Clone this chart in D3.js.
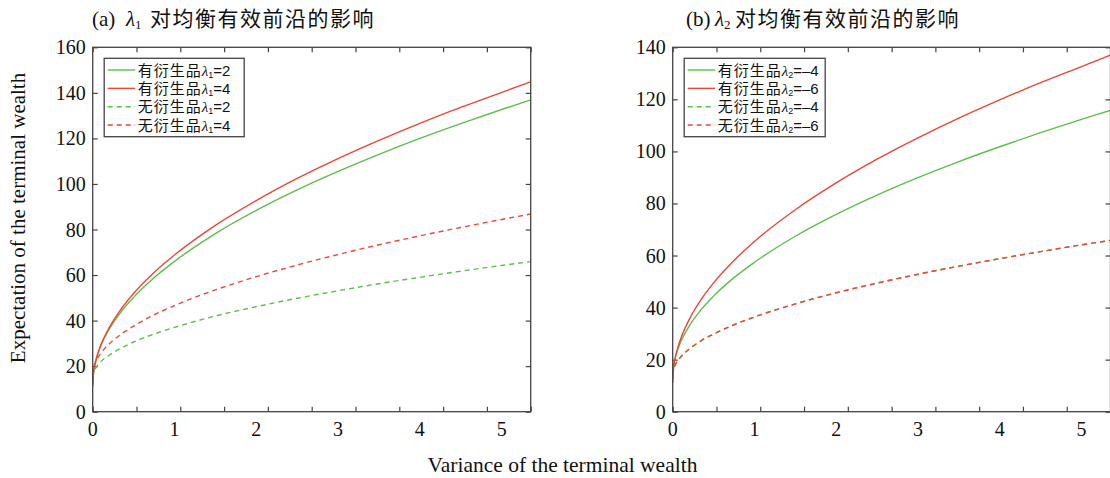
<!DOCTYPE html>
<html>
<head>
<meta charset="utf-8">
<script src="https://cdn.jsdelivr.net/npm/d3@7"></script>
<style>
	body { margin: 0; background: #fff; }
	svg { display: block; }
	.tick-label { font-family: "Liberation Serif", "DejaVu Serif", serif; font-size: 20px; fill: #111; }
</style>
</head>
<body>
<svg id="chart" width="1110" height="478"></svg>
<script>
const variance = [0, 0.01, 0.03, 0.06, 0.1, 0.2, 0.35, 0.5, 0.75, 1, 1.5, 2, 2.5, 3, 3.5, 4, 4.5, 5, 5.355];

// panel (a): lambda1
const aWithL1_2 = [12, 17.4, 21.3, 25.2, 29.1, 36.1, 44.0, 50.2, 58.8, 66.0, 78.2, 88.4, 97.4, 105.5, 113.0, 120.0, 126.5, 132.7, 136.9];
const aWithL1_4 = [11, 16.8, 21.0, 25.2, 29.3, 36.8, 45.2, 51.9, 61.1, 68.8, 81.8, 92.7, 102.4, 111.1, 119.1, 126.6, 133.6, 140.2, 144.8];
const aWithoutL1_2 = [15, 17.2, 18.8, 20.4, 22.0, 24.8, 28.0, 30.6, 34.1, 37.0, 42.0, 46.1, 49.8, 53.1, 56.2, 59.0, 61.7, 64.2, 65.9];
const aWithoutL1_4 = [16, 19.1, 21.3, 23.5, 25.7, 29.7, 34.1, 37.6, 42.5, 46.6, 53.5, 59.3, 64.4, 69.0, 73.3, 77.2, 80.9, 84.4, 86.8];

// panel (b): lambda2
const bWithL2_4 = [13, 17.4, 20.7, 23.9, 27.0, 32.8, 39.3, 44.4, 51.5, 57.4, 67.4, 75.8, 83.2, 89.9, 96.1, 101.8, 107.2, 112.3, 115.8];
const bWithL2_6 = [11, 16.4, 20.4, 24.3, 28.2, 35.3, 43.2, 49.5, 58.1, 65.4, 77.6, 87.9, 97.0, 105.2, 112.8, 119.8, 126.4, 132.6, 137.0];
const bWithoutL2_4 = [14, 16.2, 17.9, 19.5, 21.1, 24.0, 27.3, 29.8, 33.4, 36.4, 41.4, 45.7, 49.4, 52.8, 55.9, 58.8, 61.5, 64.1, 65.8];
const bWithoutL2_6 = [14, 16.2, 17.9, 19.5, 21.1, 24.0, 27.3, 29.8, 33.4, 36.4, 41.4, 45.7, 49.4, 52.8, 55.9, 58.8, 61.5, 64.1, 65.8];

const xTickLabels = [0, 1, 2, 3, 4, 5];
const aYTicks = [0, 20, 40, 60, 80, 100, 120, 140, 160];
const bYTicks = [0, 20, 40, 60, 80, 100, 120, 140];

const GREEN = "#5cbf4a";
const RED = "#ee4537";
const AXIS = "#444";
const CJK = "'Noto Sans CJK SC', sans-serif";
const SERIF = "'Liberation Serif', 'DejaVu Serif', serif";
const SANS = "'Liberation Sans', Arial, sans-serif";

const svg = d3.select("#chart");

function drawPanel(opt) {
	const x = d3.scaleLinear().domain([0, 5.355]).range([opt.left, opt.right]);
	const y = d3.scaleLinear().domain([0, opt.yMax]).range([411.7, 47.3]);
	const g = svg.append("g");

	// minor tick marks split the x range in ten
	const xMarks = d3.range(0, 11).map((i) => i * 5.355 / 10);

	g.append("g")
		.attr("transform", "translate(0,411.7)")
		.call(d3.axisBottom(x).tickValues(xMarks).tickSize(-5).tickFormat(""))
		.call((s) => s.select(".domain").remove());
	g.append("g")
		.attr("transform", "translate(0,47.3)")
		.call(d3.axisTop(x).tickValues(xMarks).tickSize(-5).tickFormat(""))
		.call((s) => s.select(".domain").remove());
	g.append("g")
		.attr("transform", "translate(" + opt.left + ",0)")
		.call(d3.axisLeft(y).tickValues(opt.yTicks).tickSize(-5).tickFormat(""))
		.call((s) => s.select(".domain").remove());
	g.append("g")
		.attr("transform", "translate(" + opt.right + ",0)")
		.call(d3.axisRight(y).tickValues(opt.yTicks).tickSize(-5).tickFormat(""))
		.call((s) => s.select(".domain").remove());
	g.selectAll(".tick line").attr("stroke", AXIS).attr("stroke-width", 1.2);

	// tick labels
	g.selectAll(".xlab")
		.data(xTickLabels)
		.enter().append("text")
		.attr("class", "tick-label")
		.attr("x", (d) => x(d))
		.attr("y", 436)
		.attr("text-anchor", "middle")
		.text((d) => d);
	g.selectAll(".ylab")
		.data(opt.yTicks)
		.enter().append("text")
		.attr("class", "tick-label")
		.attr("x", opt.left - 7)
		.attr("y", (d) => y(d))
		.attr("dy", "0.35em")
		.attr("text-anchor", "end")
		.text((d) => d);

	const line = d3.line()
		.x((d, i) => x(variance[i]))
		.y((d) => y(d))
		.curve(d3.curveMonotoneX);

	g.selectAll(".series")
		.data(opt.series)
		.enter().append("path")
		.attr("d", (d) => line(d.values))
		.attr("fill", "none")
		.attr("stroke", (d) => d.color)
		.attr("stroke-width", 1.4)
		.attr("stroke-dasharray", (d) => d.dashed ? "5,4" : null);

	// box
	g.append("rect")
		.attr("x", opt.left)
		.attr("y", 47.3)
		.attr("width", opt.right - opt.left)
		.attr("height", 411.7 - 47.3)
		.attr("fill", "none")
		.attr("stroke", AXIS)
		.attr("stroke-width", 1.3);

	// title
	const title = g.append("text")
		.attr("y", 26)
		.attr("font-size", 21)
		.attr("fill", "#111");
	title.append("tspan").attr("x", opt.titleX).attr("font-family", SERIF).text(opt.tag);
	title.append("tspan").attr("x", opt.lambdaX).attr("font-family", SERIF).attr("font-style", "italic").text("λ");
	title.append("tspan").attr("font-family", SERIF).attr("font-size", 13).attr("dy", 3).text(opt.sub);
	title.append("tspan").attr("x", opt.cjkX).attr("font-family", CJK).attr("dy", -3).attr("letter-spacing", 1.5).text("对均衡有效前沿的影响");

	// legend
	const lx = opt.left + 11.5;
	const legend = g.append("g").attr("class", "legend");
	legend.append("rect")
		.attr("x", lx)
		.attr("y", 58.3)
		.attr("width", opt.legendW)
		.attr("height", 78.4)
		.attr("fill", "#fff")
		.attr("stroke", AXIS)
		.attr("stroke-width", 1.3);
	const rows = legend.selectAll(".row")
		.data(opt.series)
		.enter().append("g")
		.attr("transform", (d, i) => "translate(" + lx + "," + (70 + i * 18.35) + ")");
	rows.append("line")
		.attr("x1", 3.5)
		.attr("x2", 31)
		.attr("stroke", (d) => d.color)
		.attr("stroke-width", 1.4)
		.attr("stroke-dasharray", (d) => d.dashed ? "5,4" : null);
	const label = rows.append("text")
		.attr("x", 33.5)
		.attr("dy", "0.38em")
		.attr("font-size", 15)
		.attr("fill", "#111");
	label.append("tspan").attr("font-family", CJK).attr("letter-spacing", 1).text((d) => d.name);
	label.append("tspan").attr("font-family", SERIF).attr("font-style", "italic").text("λ");
	label.append("tspan").attr("font-family", SANS).attr("font-size", 9).attr("dy", 2).text(opt.sub);
	label.append("tspan").attr("font-family", SANS).attr("dy", -2).text((d) => "=" + d.value);
}

drawPanel({
	left: 92.7,
	right: 530.7,
	yMax: 160,
	yTicks: aYTicks,
	titleX: 92,
	lambdaX: 126,
	cjkX: 150,
	tag: "(a)",
	sub: "1",
	legendW: 140,
	series: [
		{ name: "有衍生品", value: "2", values: aWithL1_2, color: GREEN, dashed: false },
		{ name: "有衍生品", value: "4", values: aWithL1_4, color: RED, dashed: false },
		{ name: "无衍生品", value: "2", values: aWithoutL1_2, color: GREEN, dashed: true },
		{ name: "无衍生品", value: "4", values: aWithoutL1_4, color: RED, dashed: true }
	]
});

drawPanel({
	left: 672.7,
	right: 1110.5,
	yMax: 140,
	yTicks: bYTicks,
	titleX: 686,
	lambdaX: 715,
	cjkX: 735,
	tag: "(b)",
	sub: "2",
	legendW: 141,
	series: [
		{ name: "有衍生品", value: "–4", values: bWithL2_4, color: GREEN, dashed: false },
		{ name: "有衍生品", value: "–6", values: bWithL2_6, color: RED, dashed: false },
		{ name: "无衍生品", value: "–4", values: bWithoutL2_4, color: GREEN, dashed: true },
		{ name: "无衍生品", value: "–6", values: bWithoutL2_6, color: RED, dashed: true }
	]
});

// shared axis titles
svg.append("text")
	.attr("transform", "translate(25,218) rotate(-90)")
	.attr("text-anchor", "middle")
	.attr("font-family", SERIF)
	.attr("font-size", 21)
	.attr("fill", "#111")
	.text("Expectation of the terminal wealth");

svg.append("text")
	.attr("x", 562.5)
	.attr("y", 471.5)
	.attr("text-anchor", "middle")
	.attr("font-family", SERIF)
	.attr("font-size", 21.5)
	.attr("fill", "#111")
	.text("Variance of the terminal wealth");
</script>
</body>
</html>
